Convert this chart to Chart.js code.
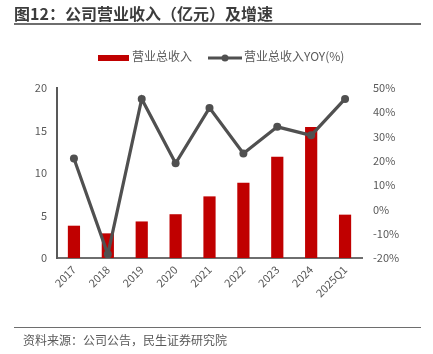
<!DOCTYPE html>
<html>
<head>
<meta charset="utf-8">
<script src="https://cdn.jsdelivr.net/npm/chart.js@4"></script>
<style>
  body { margin: 0; background: #fff; font-family: "Noto Sans CJK SC", "Noto Sans", sans-serif; }
  #wrap { position: relative; width: 433px; height: 354px; overflow: hidden; }
  #chart { position: absolute; left: 0; top: 0; }
  #title { position: absolute; left: 14px; top: 3px; width: 407px; height: 20px;
           border-bottom: 2px solid #6e6e6e; font-size: 16px; font-weight: bold; color: #3c3c3c; line-height: 20px; }
  #legend { position: absolute; top: 48px; left: 0; width: 433px; font-size: 12px; color: #595959; }
  #legend .item { position: absolute; top: 0; line-height: 16px; white-space: nowrap; }
  #foot { position: absolute; left: 14px; top: 327px; width: 407px; border-top: 1.5px solid #6e6e6e; }
  #src { position: absolute; left: 23px; top: 331px; font-size: 12px; color: #595959; }
</style>
</head>
<body>
<div id="wrap">
  <canvas id="chart" width="433" height="354"></canvas>
  <div id="title">图12：公司营业收入（亿元）及增速</div>
  <div id="legend">
    <div class="item" style="left:98px;"><span style="display:inline-block;width:31px;height:6px;background:#c00000;vertical-align:middle;margin-right:3px;"></span>营业总收入</div>
    <div class="item" style="left:208px;"><svg width="34" height="10" style="vertical-align:middle;margin-right:2px;"><line x1="0" y1="5" x2="34" y2="5" stroke="#505050" stroke-width="3"/><circle cx="17" cy="5" r="3.5" fill="#505050"/></svg>营业总收入YOY(%)</div>
  </div>
  <div id="foot"></div>
  <div id="src">资料来源：公司公告，民生证券研究院</div>
</div>
<script>
var labels = ['2017', '2018', '2019', '2020', '2021', '2022', '2023', '2024', '2025Q1'];
var revenue = [3.8, 2.9, 4.3, 5.15, 7.25, 8.85, 11.9, 15.4, 5.1];
var revenueYoy = [21.0, -18.5, 45.5, 19.0, 41.8, 23.0, 34.0, 30.5, 45.5];
var leftTicks = [0, 5, 10, 15, 20];
var rightTicks = [-20, -10, 0, 10, 20, 30, 40, 50];

var tickFont = { family: '"Noto Sans CJK SC", "Noto Sans", sans-serif', size: 11 };

var ctx = document.getElementById('chart').getContext('2d');
var chart = new Chart(ctx, {
    type: 'bar',
    data: {
        labels: labels,
        datasets: [{
            type: 'line',
            label: '营业总收入YOY(%)',
            data: revenueYoy,
            yAxisID: 'y1',
            borderColor: '#505050',
            backgroundColor: '#505050',
            borderWidth: 3.2,
            pointRadius: 4,
            pointBackgroundColor: '#505050',
            pointBorderWidth: 0,
            tension: 0,
            order: 1
        }, {
            label: '营业总收入',
            data: revenue,
            yAxisID: 'y',
            backgroundColor: '#c00000',
            barPercentage: 0.36,
            categoryPercentage: 1,
            order: 2
        }]
    },
    options: {
        responsive: false,
        animation: false,
        layout: { padding: { top: 88, left: 0, right: 0, bottom: 0 } },
        plugins: { legend: { display: false }, tooltip: { enabled: false } },
        scales: {
            x: {
                grid: { display: false, drawTicks: false },
                border: { color: '#6e6e6e', width: 2 },
                ticks: { color: '#595959', font: tickFont, maxRotation: 45, minRotation: 45, padding: 5 },
                afterFit: function (s) { s.height = 96; }
            },
            y: {
                position: 'left',
                min: 0, max: 20,
                afterBuildTicks: function (s) { s.ticks = leftTicks.map(function (v) { return { value: v }; }); },
                grid: { display: false, drawTicks: false },
                border: { color: '#595959', width: 2 },
                ticks: { color: '#595959', font: tickFont, padding: 10 },
                afterFit: function (s) { s.width = 57; }
            },
            y1: {
                position: 'right',
                min: -20, max: 50,
                afterBuildTicks: function (s) { s.ticks = rightTicks.map(function (v) { return { value: v }; }); },
                grid: { display: false, drawTicks: false },
                border: { display: false },
                ticks: { color: '#595959', font: tickFont, padding: 11, callback: function (v) { return v + '%'; } },
                afterFit: function (s) { s.width = 71; }
            }
        }
    }
});
</script>
</body>
</html>
